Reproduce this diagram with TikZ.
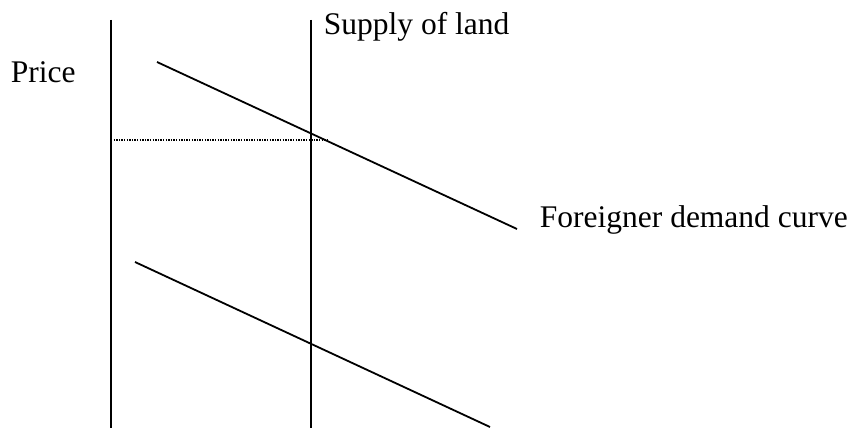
\documentclass[tikz,border=0pt]{standalone}
\usepackage{fontspec}
\setmainfont{Liberation Serif}

\begin{document}
\begin{tikzpicture}[x=1pt, y=-1pt, line width=1.8pt,
  lbl/.style={inner sep=0pt, anchor=base west, font=\fontsize{31.5}{38}\selectfont}]
  \useasboundingbox (0,0) rectangle (854,428);

  % Axes
  \coordinate (PT) at (111,20); % Price axis top
  \coordinate (PB) at (111,428); % Price axis bottom
  \coordinate (ST) at (311,20); % Supply top
  \coordinate (SB) at (311,428); % Supply bottom
  \draw (PT) -- (PB);
  \draw (ST) -- (SB);

  % Demand curves
  \coordinate (F1) at (157,62); % Foreigner demand start
  \coordinate (F2) at (517,229); % Foreigner demand end
  \coordinate (L1) at (135,262); % Local demand start
  \coordinate (L2) at (490,427); % Local demand end
  \draw (F1) -- (F2);
  \draw (L1) -- (L2);

  % Price level
  \coordinate (D1) at (111,140);
  \coordinate (D2) at (327,140);
  \draw[line width=1.3pt, dash pattern=on 1.3pt off 1.3pt] (D1) -- (D2);

  % Labels
  \node[lbl] (price) at (10,82) {Price};
  \node[lbl] (supply) at (323,35) {Supply of land};
  \node[lbl] (foreign) at (539,227) {Foreigner demand curve};
\end{tikzpicture}
\end{document}
